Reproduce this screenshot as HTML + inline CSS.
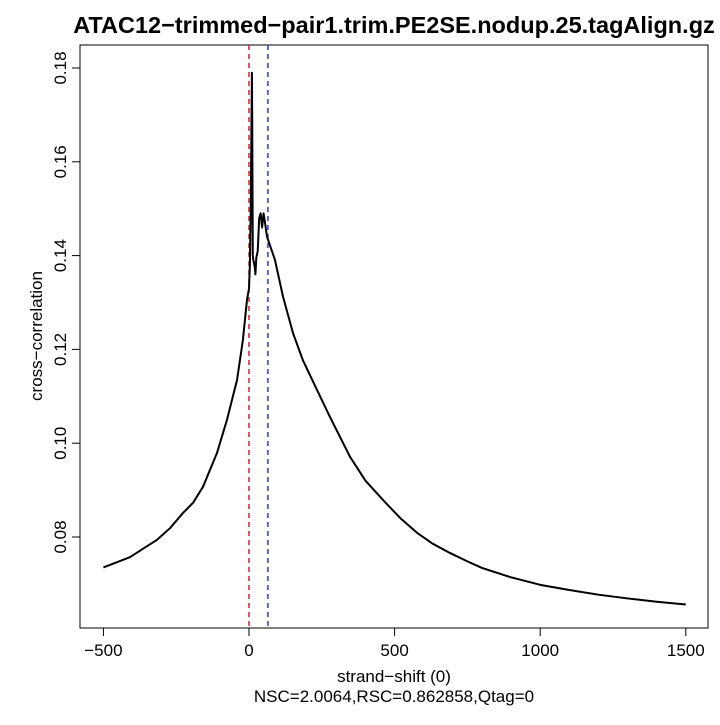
<!DOCTYPE html>
<html><head><meta charset="utf-8"><style>
body{margin:0;background:#fff}
svg text{font-family:"Liberation Sans",sans-serif}
</style></head><body>
<svg width="720" height="720">
<text x="394" y="33" text-anchor="middle" font-size="23.5" font-weight="bold">ATAC12−trimmed−pair1.trim.PE2SE.nodup.25.tagAlign.gz</text>
<rect x="80" y="45" width="628" height="583" fill="none" stroke="#000" stroke-width="1"/>
<g id="xaxis"></g>
<g id="yaxis"></g>
<g id="marks"></g>
<text x="394" y="682" text-anchor="middle" font-size="17">strand−shift (0)</text>
<text x="394" y="702" text-anchor="middle" font-size="17">NSC=2.0064,RSC=0.862858,Qtag=0</text>
<text transform="translate(42,336) rotate(-90)" text-anchor="middle" font-size="17">cross−correlation</text>
</svg>
<script>
const xTicks=[-500,0,500,1000,1500];
const yTicks=[0.08,0.10,0.12,0.14,0.16,0.18];
const shifts=[-500,-409,-316,-271,-227,-192,-158,-110,-76,-41,-21,-7,0,3,6,8,10,11,12,13,15,17,20,22,25,30,35,40,45,50,55,62,89,117,151,185,234,278,347,400,460,520,577,630,690,750,800,900,1000,1100,1200,1300,1400,1500];
const values=[0.0735,0.0757,0.0794,0.0819,0.0851,0.0873,0.0907,0.0979,0.1049,0.1135,0.1220,0.1305,0.1330,0.1380,0.1500,0.1650,0.1790,0.1700,0.1550,0.1400,0.1390,0.1385,0.1375,0.1360,0.1395,0.1410,0.1480,0.1490,0.1460,0.1490,0.1470,0.1440,0.1391,0.1312,0.1235,0.1177,0.1113,0.1056,0.0971,0.0920,0.0879,0.0840,0.0809,0.0786,0.0766,0.0748,0.0734,0.0714,0.0698,0.0687,0.0677,0.0669,0.0662,0.0656];
const nscShift=0, rscShift=65;
const X=v=>249+(v)*0.2912;
const Y=v=>68+(0.18-v)/0.02*93.8;
const NS="http://www.w3.org/2000/svg";
function mk(t,a,p){const e=document.createElementNS(NS,t);for(const k in a)e.setAttribute(k,a[k]);p.appendChild(e);return e;}
const xa=document.getElementById('xaxis'),ya=document.getElementById('yaxis'),m=document.getElementById('marks');
mk('line',{x1:X(xTicks[0]),x2:X(xTicks[xTicks.length-1]),y1:628,y2:628,stroke:'#000'},xa);
xTicks.forEach(t=>{
 const l=mk('line',{x1:X(t),x2:X(t),y1:628,y2:636,stroke:'#000'},xa);
 
 
 const s=mk('text',{x:X(t),y:656,'text-anchor':'middle','font-size':17},xa);
 s.textContent=t<0?'−'+(-t):t;
 
 
});
mk('line',{x1:80,x2:80,y1:Y(yTicks[0]),y2:Y(yTicks[yTicks.length-1]),stroke:'#000'},ya);
yTicks.forEach(t=>{
 const l=mk('line',{x1:72,x2:80,y1:Y(t),y2:Y(t),stroke:'#000'},ya);
 
 
 const s=mk('text',{transform:`translate(66,${Y(t)}) rotate(-90)`,'text-anchor':'middle','font-size':17},ya);
 s.textContent=t.toFixed(2);
 
 
});
const r=mk('line',{x1:X(nscShift),x2:X(nscShift),y1:45,y2:628,stroke:'#d0202a','stroke-width':1.5,'stroke-dasharray':'5,4'},m);


const b=mk('line',{x1:X(rscShift),x2:X(rscShift),y1:45,y2:628,stroke:'#3030f0','stroke-width':1.5,'stroke-dasharray':'5,4'},m);


const p=mk('polyline',{points:shifts.map((s,i)=>X(s)+','+Y(values[i])).join(' '),fill:'none',stroke:'#000','stroke-width':2,'stroke-linejoin':'round'},m);


</script>
</body></html>
